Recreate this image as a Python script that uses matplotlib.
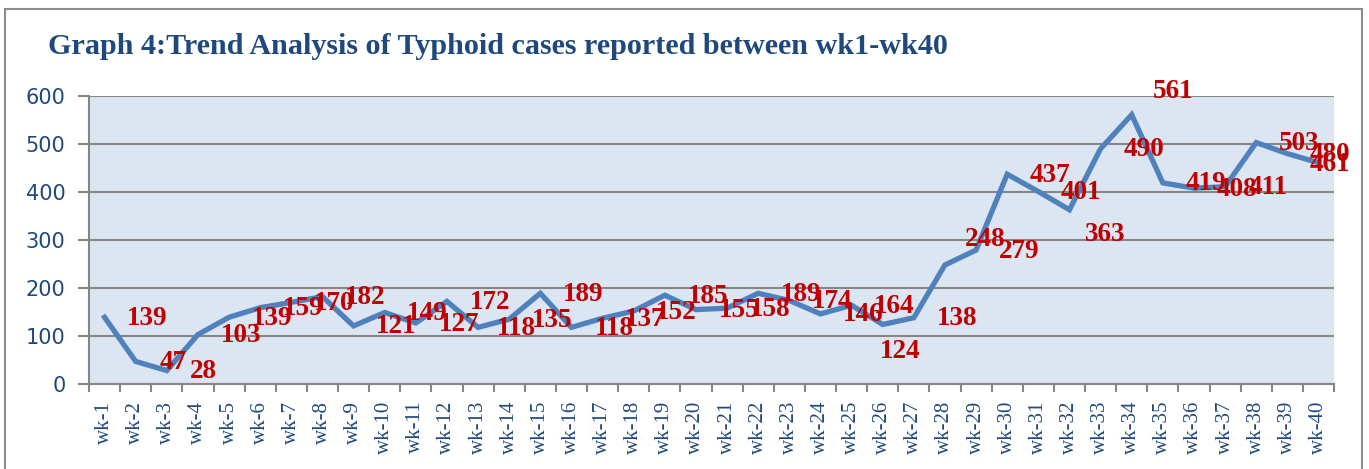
import matplotlib
matplotlib.use("Agg")
import matplotlib.pyplot as plt
from matplotlib.patches import Rectangle
from matplotlib.ticker import FixedLocator, NullFormatter

# ---- data ----
weeks = [f"wk-{i}" for i in range(1, 41)]
cases = [139, 47, 28, 103, 139, 159, 170, 182, 121, 149,
         127, 172, 118, 135, 189, 118, 137, 152, 185, 155,
         158, 189, 174, 146, 164, 124, 138, 248, 279, 437,
         401, 363, 490, 561, 419, 408, 411, 503, 480, 461]
y_ticks = [0, 100, 200, 300, 400, 500, 600]
title = "Graph 4:Trend Analysis of Typhoid cases reported between wk1-wk40"

# label placement (pixel offsets of label centre from its point)
default_offset = (43, -1)
special_offsets = {1: (37, -1), 2: (37, -1), 12: (38, -1), 25: (18, -27),
                   27: (40, 25), 31: (36, -25), 33: (41, 23), 39: (12, -2)}

W, H = 1369, 469
fig = plt.figure(figsize=(W / 100, H / 100), dpi=100)
fig.patch.set_facecolor("white")

# outer chart border
fig.patches.append(Rectangle((5 / W, -0.05), (1362 - 5) / W, (H - 9) / H + 0.05,
                             transform=fig.transFigure, fill=False,
                             edgecolor="#8c8c8c", linewidth=1.5))

left, right, top, bottom = 89, 1334, 96, 384
ax = fig.add_axes([left / W, 1 - bottom / H, (right - left) / W, (bottom - top) / H])
ax.set_facecolor("#dce6f2")

x = list(range(len(weeks)))
ax.plot(x, cases, color="#4f81bd", linewidth=3.8, solid_joinstyle="miter", zorder=3)

ax.set_xlim(-0.5, len(weeks) - 0.5)
ax.set_ylim(0, 600)
ax.set_yticks(y_ticks)
ax.set_yticklabels([str(v) for v in y_ticks], fontsize=15, color="#1f497d",
                   family="DejaVu Sans")
ax.yaxis.grid(True, color="#868686", linewidth=1.5, zorder=1)
ax.set_axisbelow(True)

ax.set_xticks(x)
ax.set_xticklabels(weeks, rotation=90, fontsize=15, color="#1f497d",
                   family="Liberation Serif", va="top")
ax.tick_params(axis="x", which="major", length=0, pad=12)
ax.xaxis.set_minor_locator(FixedLocator([i - 0.5 for i in range(len(weeks) + 1)]))
ax.xaxis.set_minor_formatter(NullFormatter())
ax.tick_params(axis="x", which="minor", length=6, width=1.5, color="#868686")
ax.tick_params(axis="y", length=8, width=1.5, color="#868686", pad=9)

for s in ["top", "right"]:
    ax.spines[s].set_visible(False)
for s in ["left", "bottom"]:
    ax.spines[s].set_color("#868686")
    ax.spines[s].set_linewidth(1.5)

for i, v in enumerate(cases):
    dx, dy = special_offsets.get(i, default_offset)
    ax.annotate(str(v), (i, v), xytext=(dx, dy), textcoords="offset pixels",
                ha="center", va="center", fontsize=19.5, fontweight="bold",
                color="#c00000", family="Liberation Serif", zorder=4,
                annotation_clip=False)

fig.text(48 / W, 1 - 46 / H, title, ha="left", va="center", fontsize=21.7,
         fontweight="bold", color="#1f497d", family="Liberation Serif")

fig.savefig("out.png", dpi=100)
